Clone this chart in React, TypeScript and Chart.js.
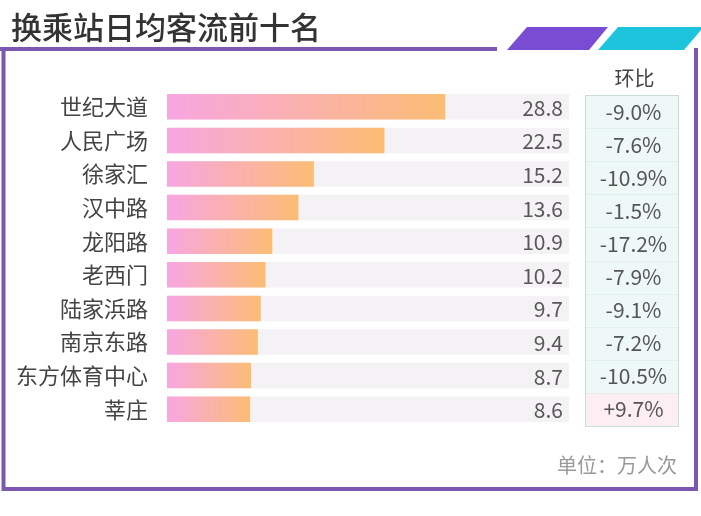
import React, { useEffect, useRef } from 'react';
import { Chart, registerables } from 'chart.js';

Chart.register(...registerables);

const TITLE = '换乘站日均客流前十名';
const HEADER = '环比';
const UNIT = '单位：万人次';
const stations = ['世纪大道', '人民广场', '徐家汇', '汉中路', '龙阳路', '老西门', '陆家浜路', '南京东路', '东方体育中心', '莘庄'];
const flows = [28.8, 22.5, 15.2, 13.6, 10.9, 10.2, 9.7, 9.4, 8.7, 8.6];
const changes = ['-9.0%', '-7.6%', '-10.9%', '-1.5%', '-17.2%', '-7.9%', '-9.1%', '-7.2%', '-10.5%', '+9.7%'];
const X_MAX = 41.6;

const FONT = '"Noto Sans CJK SC", "Noto Sans", sans-serif';

const decorPlugin = {
  id: 'decor',
  beforeDraw(chart: any) {
    const ctx = chart.ctx as CanvasRenderingContext2D;
    ctx.save();
    ctx.fillStyle = '#ffffff';
    ctx.fillRect(0, 0, chart.width, chart.height);

    // title
    ctx.fillStyle = '#333333';
    ctx.font = `500 31px ${FONT}`;
    ctx.textAlign = 'left';
    ctx.textBaseline = 'middle';
    ctx.fillText(TITLE, 11, 27);

    // frame
    ctx.strokeStyle = '#7b57b0';
    ctx.lineWidth = 4;
    ctx.beginPath();
    ctx.moveTo(0, 49);
    ctx.lineTo(497, 49);
    ctx.moveTo(3.5, 47);
    ctx.lineTo(3.5, 489);
    ctx.lineTo(696, 489);
    ctx.lineTo(696, 48);
    ctx.stroke();

    // parallelograms
    ctx.fillStyle = '#7a4cd4';
    ctx.beginPath();
    ctx.moveTo(527, 27);
    ctx.lineTo(608, 27);
    ctx.lineTo(589, 50);
    ctx.lineTo(507, 50);
    ctx.closePath();
    ctx.fill();
    ctx.fillStyle = '#1cc5dc';
    ctx.beginPath();
    ctx.moveTo(618, 27);
    ctx.lineTo(701, 27);
    ctx.lineTo(701, 30);
    ctx.lineTo(684, 50);
    ctx.lineTo(598, 50);
    ctx.closePath();
    ctx.fill();
    ctx.restore();
  },
  afterDatasetsDraw(chart: any) {
    const ctx = chart.ctx as CanvasRenderingContext2D;
    const xs = chart.scales.x;
    const ys = chart.scales.y;
    const meta = chart.getDatasetMeta(0);
    ctx.save();
    // value labels
    ctx.fillStyle = '#585858';
    ctx.font = `21px ${FONT}`;
    ctx.textAlign = 'right';
    ctx.textBaseline = 'middle';
    meta.data.forEach((bar: any, i: number) => {
      ctx.fillText(String(flows[i].toFixed(1)), xs.right - 6, bar.y + 1);
    });

    // ratio column
    const left = xs.right + 16;
    const w = 93;
    const top = ys.top + 5;
    const bottom = ys.bottom;
    const h = (bottom - top) / changes.length;
    changes.forEach((c, i) => {
      const y0 = top + h * i;
      const pos = c.startsWith('+');
      ctx.fillStyle = pos ? '#fdeef3' : '#eef8f7';
      ctx.fillRect(left, y0, w, h);
    });
    ctx.strokeStyle = '#c9dddd';
    ctx.lineWidth = 1;
    ctx.strokeRect(left + 0.5, top + 0.5, w, bottom - top);
    ctx.strokeStyle = '#e1eeee';
    for (let i = 1; i < changes.length; i++) {
      const y = Math.round(top + h * i) + 0.5;
      ctx.beginPath();
      ctx.moveTo(left + 1, y);
      ctx.lineTo(left + w, y);
      ctx.stroke();
    }
    ctx.fillStyle = '#555555';
    ctx.font = `21px ${FONT}`;
    ctx.textAlign = 'center';
    changes.forEach((c, i) => {
      ctx.fillText(c, left + w / 2 + 2, top + h * (i + 0.5));
    });

    // header
    ctx.fillStyle = '#444444';
    ctx.font = `20px ${FONT}`;
    ctx.fillText(HEADER, left + w / 2 + 3, 78);

    // unit
    ctx.fillStyle = '#999999';
    ctx.font = `20px ${FONT}`;
    ctx.textAlign = 'right';
    ctx.fillText(UNIT, left + w - 1, 465);
    ctx.restore();
  },
};

export default function App() {
  const ref = useRef<HTMLCanvasElement | null>(null);
  useEffect(() => {
    if (!ref.current) return;
    const chart = new Chart(ref.current, {
      type: 'bar',
      data: {
        labels: stations,
        datasets: [
          {
            data: flows,
            order: 0,
            grouped: false,
            barPercentage: 0.76,
            categoryPercentage: 1,
            backgroundColor: (c: any) => {
              const ch = c.chart;
              if (!ch.chartArea || c.type !== 'data') return '#f8b0c0';
              const xs = ch.scales.x;
              const x0 = xs.getPixelForValue(0);
              const x1 = xs.getPixelForValue(c.raw as number);
              const g = ch.ctx.createLinearGradient(x0, 0, x1, 0);
              g.addColorStop(0, '#f8a6e2');
              g.addColorStop(1, '#fbbd74');
              return g;
            },
          } as any,
          {
            data: stations.map(() => X_MAX),
            order: 1,
            grouped: false,
            barPercentage: 0.76,
            categoryPercentage: 1,
            backgroundColor: '#f4f2f4',
          } as any,
        ],
      },
      options: {
        indexAxis: 'y',
        responsive: false,
        animation: false,
        layout: { padding: { left: 0, right: 132, top: 90, bottom: 90 } },
        plugins: { legend: { display: false }, tooltip: { enabled: false }, title: { display: false } },
        scales: {
          x: { display: false, min: 0, max: X_MAX },
          y: {
            grid: { display: false, drawTicks: false },
            border: { display: false },
            ticks: { color: '#444444', font: { family: FONT, size: 22 }, padding: 19 },
            afterFit: (s: any) => {
              s.width = 167;
            },
          },
        },
      },
      plugins: [decorPlugin],
    });
    return () => chart.destroy();
  }, []);
  return (
    <div style={{ position: 'absolute', left: 0, top: 0, width: 701, height: 516 }}>
      <canvas ref={ref} width={701} height={516} />
    </div>
  );
}
